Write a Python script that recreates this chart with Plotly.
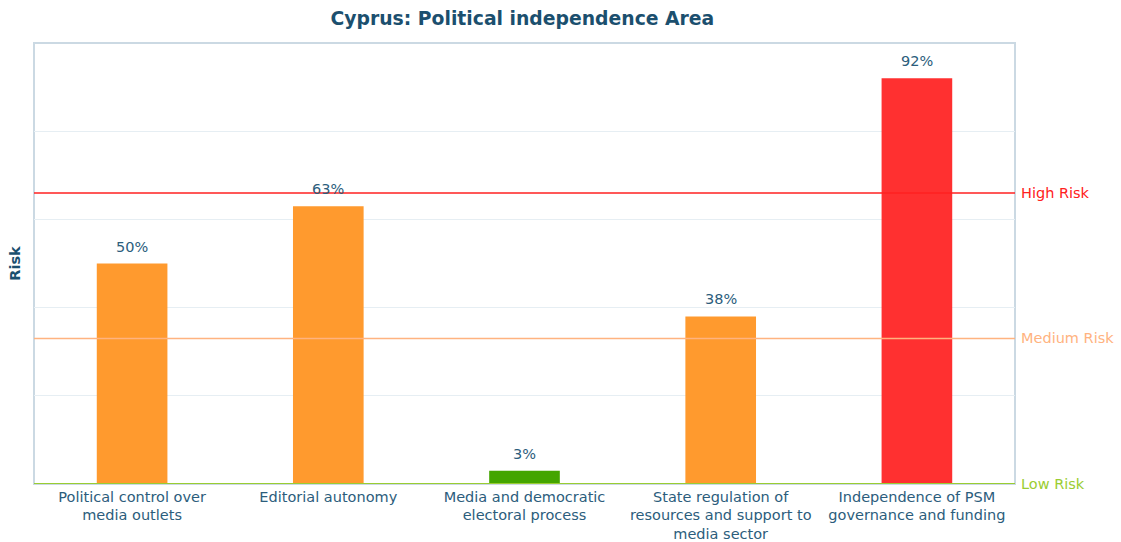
import plotly.graph_objects as go

categories = [
    "Political control over<br>media outlets",
    "Editorial autonomy",
    "Media and democratic<br>electoral process",
    "State regulation of<br>resources and support to<br>media sector",
    "Independence of PSM<br>governance and funding",
]
values = [50, 63, 3, 38, 92]
bar_colors = ["#FF9A2E", "#FF9A2E", "#44A500", "#FF9A2E", "#FF3030"]
risk_levels = [0, 33, 66]
risk_labels = ["Low Risk", "Medium Risk", "High Risk"]
risk_colors = ["#9ACD32", "#FFB380", "#FF2020"]

text_color = "#2C5D7C"
title_color = "#1B4F6E"
FS = 14.5

fig = go.Figure()
fig.add_trace(go.Bar(
    x=categories, y=values, marker=dict(color=bar_colors, line=dict(width=0)),
    hoverinfo="skip",
))

annotations = []
for c, v in zip(categories, values):
    annotations.append(dict(
        x=c, y=v, xref="x", yref="y", text=f"{v}%", showarrow=False,
        yanchor="bottom", yshift=7,
        font=dict(family="DejaVu Sans", size=FS, color=text_color),
    ))

shapes = []
for lvl, lab, col in zip(risk_levels, risk_labels, risk_colors):
    shapes.append(dict(
        type="line", xref="paper", yref="y", x0=0, x1=1, y0=lvl, y1=lvl,
        line=dict(color=col, width=1.5 if lvl else 2), layer="above",
    ))
    annotations.append(dict(
        x=1, y=lvl, xref="paper", yref="y", text=lab, showarrow=False,
        xanchor="left", yanchor="middle", xshift=4,
        font=dict(family="DejaVu Sans", size=FS, color=col),
    ))

# frame
shapes.append(dict(type="rect", xref="paper", yref="paper", x0=0, x1=1, y0=0, y1=1,
                   line=dict(color="#CBD9E3", width=2), layer="below"))

fig.update_layout(
    width=1121, height=542,
    margin=dict(l=34, r=106, t=43, b=58, autoexpand=False),
    paper_bgcolor="white", plot_bgcolor="white",
    title=dict(text="<b>Cyprus: Political independence Area</b>", x=0.466, xanchor="center",
               y=0.966, yanchor="middle",
               font=dict(family="DejaVu Sans", size=18.8, color=title_color)),
    bargap=0.64,
    showlegend=False,
    font=dict(family="DejaVu Sans", size=FS, color=text_color),
    xaxis=dict(showgrid=False, zeroline=False, showline=False, ticks="",
               ticklabelstandoff=2, automargin=False,
               tickfont=dict(family="DejaVu Sans", size=FS, color=text_color)),
    yaxis=dict(range=[0, 100], showticklabels=False, ticks="", zeroline=False,
               showgrid=True, gridcolor="#E6EEF3", gridwidth=1, dtick=20,
               automargin=False,
               title=dict(text="<b>Risk</b>", standoff=8,
                          font=dict(family="DejaVu Sans", size=FS, color=title_color))),
    shapes=shapes,
    annotations=annotations,
)

fig.write_html("out.html", config={"displayModeBar": False},
               post_script="document.body.style.margin='0';")
